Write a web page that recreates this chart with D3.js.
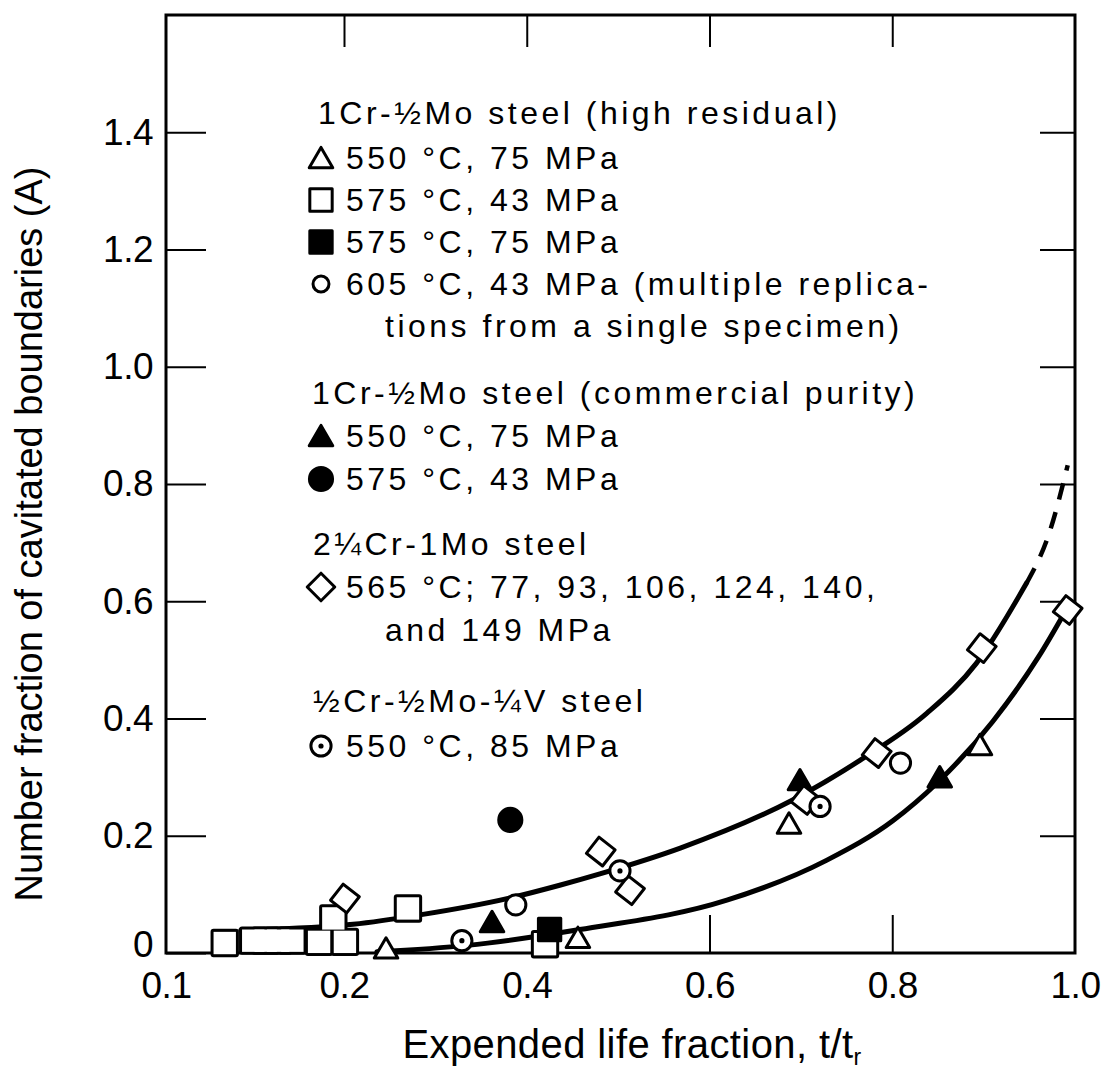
<!DOCTYPE html>
<html>
<head>
<meta charset="utf-8">
<script src="https://cdn.jsdelivr.net/npm/d3@7"></script>
<style>
  html, body { margin: 0; padding: 0; background: #fff; }
  svg { display: block; }
  text { font-family: "Liberation Sans", Arial, Helvetica, sans-serif; fill: #000; }
</style>
</head>
<body>
<svg id="chart" width="1108" height="1082"></svg>
<script>
// ---------------- data ----------------
const xTickValues = [0.1, 0.2, 0.4, 0.6, 0.8, 1.0];
const yTickValues = [0, 0.2, 0.4, 0.6, 0.8, 1.0, 1.2, 1.4];
const sideTickValues = [0.2, 0.4, 0.6, 0.8, 1.0, 1.2, 1.4];
const topTickValues = [0.2, 0.4, 0.6, 0.8];
const bottomTickValues = [0.6, 0.8];

// [t/tr, A]
// 1Cr-1/2Mo steel (high residual)
const hr550_75 = [[0.246, 0.008], [0.456, 0.026], [0.687, 0.221], [0.896, 0.355]];
const hr575_43 = [[0.133, 0.017], [0.149, 0.021], [0.156, 0.021], [0.163, 0.021], [0.171, 0.021],
                  [0.186, 0.019], [0.201, 0.019], [0.194, 0.059], [0.270, 0.076], [0.420, 0.015]];
const hr575_75 = [[0.425, 0.040]];
const hr605_43 = [[0.388, 0.082], [0.809, 0.324]];
// 1Cr-1/2Mo steel (commercial purity)
const cp550_75 = [[0.362, 0.053], [0.699, 0.295], [0.852, 0.300]];
const cp575_43 = [[0.382, 0.227]];
// 2 1/4Cr-1Mo steel
const cr2Mo565 = [[0.201, 0.093], [0.481, 0.173], [0.513, 0.107], [0.705, 0.261],
                  [0.783, 0.341], [0.898, 0.520], [0.992, 0.585]];
// 1/2Cr-1/2Mo-1/4V steel
const crMoV550 = [[0.329, 0.021], [0.502, 0.140], [0.721, 0.250]];

// fitted trend curves
const upperCurve = [[0.142, 0.039], [0.210, 0.049], [0.283, 0.065], [0.382, 0.094], [0.437, 0.116],
                    [0.480, 0.135], [0.568, 0.179], [0.691, 0.261], [0.765, 0.329], [0.838, 0.409],
                    [0.892, 0.494], [0.947, 0.631]];
const upperCurveExtension = [[0.947, 0.631], [0.973, 0.722], [0.992, 0.832]];
const lowerCurve = [[0.236, 0.002], [0.335, 0.013], [0.458, 0.040], [0.619, 0.090], [0.728, 0.158],
                    [0.801, 0.226], [0.849, 0.290], [0.910, 0.395], [0.960, 0.505], [0.992, 0.590]];

// legend text
const legendGroups = [
  { title: "1Cr-½Mo steel (high residual)", items: [
      { sym: "triOpen", text: "550 °C, 75 MPa" },
      { sym: "sqOpen", text: "575 °C, 43 MPa" },
      { sym: "sqFill", text: "575 °C, 75 MPa" },
      { sym: "circOpenSmall", text: "605 °C, 43 MPa (multiple replica-" },
      { sym: null, text: "tions from a single specimen)", indent: true } ] },
  { title: "1Cr-½Mo steel (commercial purity)", items: [
      { sym: "triFill", text: "550 °C, 75 MPa" },
      { sym: "circFill", text: "575 °C, 43 MPa" } ] },
  { title: "2¼Cr-1Mo steel", items: [
      { sym: "diamondLegend", text: "565 °C; 77, 93, 106, 124, 140," },
      { sym: null, text: "and 149 MPa", indent: true } ] },
  { title: "½Cr-½Mo-¼V steel", items: [
      { sym: "dotCirc", text: "550 °C, 85 MPa" } ] }
];

const xTitle = "Expended life fraction, t/t";
const xTitleSub = "r";
const yTitle = "Number fraction of cavitated boundaries (A)";

// ---------------- layout ----------------
const frame = { left: 166, right: 1075, top: 15, bottom: 953 };

const svg = d3.select("#chart");

// axis below 0.2 is compressed, as in the printed figure
const x = d3.scaleLinear().domain([0.1, 0.2, 1.0]).range([frame.left, 344, frame.right]);
const y = d3.scaleLinear().domain([0, 1.6]).range([frame.bottom, frame.top]);

// ---------------- symbols ----------------
const SW = 3;
function symbolPath(kind) {
  switch (kind) {
    case "triOpen": case "triFill": return d3.symbol(d3.symbolTriangle, 240)();
    case "sqOpen": case "sqFill": return d3.symbol(d3.symbolSquare, 500)();
    case "circOpen": case "dotCirc": return d3.symbol(d3.symbolCircle, 320)();
    case "circOpenSmall": return d3.symbol(d3.symbolCircle, 200)();
    case "circFill": return d3.symbol(d3.symbolCircle, 420)();
    case "diamond": return d3.symbol(d3.symbolSquare, 420)();
    case "diamondLegend": return d3.symbol(d3.symbolSquare, 380)();
  }
}
function drawSymbol(g, kind, cx, cy) {
  const filled = kind === "triFill" || kind === "sqFill" || kind === "circFill";
  const rot = kind === "diamond" ? 38 : (kind === "diamondLegend" ? 45 : 0);
  const dy = (kind === "triOpen" || kind === "triFill") ? 3 : 0;
  g.append("path")
    .attr("d", symbolPath(kind))
    .attr("transform", `translate(${cx},${cy + dy}) rotate(${rot})`)
    .attr("fill", filled ? "#000" : "#fff")
    .attr("stroke", "#000")
    .attr("stroke-width", SW)
    .attr("stroke-linejoin", "round");
  if (kind === "dotCirc") {
    g.append("circle").attr("cx", cx).attr("cy", cy).attr("r", 2.6).attr("fill", "#000");
  }
}

// ---------------- frame & axes ----------------
const axes = svg.append("g");

axes.append("rect")
  .attr("x", frame.left).attr("y", frame.top)
  .attr("width", frame.right - frame.left).attr("height", frame.bottom - frame.top)
  .attr("fill", "none").attr("stroke", "#000").attr("stroke-width", 3);

function styleAxis(g) {
  g.select(".domain").remove();
  g.selectAll(".tick line").attr("stroke", "#000").attr("stroke-width", 2);
  g.selectAll(".tick text")
    .style("font-family", '"Liberation Sans", Arial, sans-serif')
    .style("font-size", "37px")
    .style("letter-spacing", "-0.5px");
}

const leftAxis = axes.append("g")
  .attr("transform", `translate(${frame.left},0)`)
  .call(d3.axisLeft(y).tickValues(yTickValues).tickSizeInner(-40).tickSizeOuter(0)
        .tickPadding(13).tickFormat(d => d === 0 ? "0" : d3.format(".1f")(d)))
  .call(styleAxis);
// the zero label sits a little above the baseline
leftAxis.selectAll(".tick text").filter(d => d === 0).attr("dy", "0.1em");

axes.append("g")
  .attr("transform", `translate(${frame.right},0)`)
  .call(d3.axisRight(y).tickValues(sideTickValues).tickSizeInner(-35).tickSizeOuter(0).tickFormat(""))
  .call(styleAxis);

axes.append("g")
  .attr("transform", `translate(0,${frame.top})`)
  .call(d3.axisTop(x).tickValues(topTickValues).tickSizeInner(-32).tickSizeOuter(0).tickFormat(""))
  .call(styleAxis);

axes.append("g")
  .attr("transform", `translate(0,${frame.bottom})`)
  .call(d3.axisBottom(x).tickValues(bottomTickValues).tickSizeInner(-38).tickSizeOuter(0).tickFormat(""))
  .call(styleAxis);

axes.append("g")
  .attr("transform", `translate(0,${frame.bottom})`)
  .call(d3.axisBottom(x).tickValues(xTickValues).tickSize(0).tickPadding(19)
        .tickFormat(d3.format(".1f")))
  .call(styleAxis);

// axis titles
const xt = svg.append("text")
  .attr("x", 632).attr("y", 1058)
  .attr("text-anchor", "middle")
  .style("font-size", "40px")
  .style("letter-spacing", "0.4px");
xt.append("tspan").text(xTitle);
xt.append("tspan").attr("dy", 7).style("font-size", "23px").text(xTitleSub);

svg.append("text")
  .attr("transform", `translate(42,${(frame.top + frame.bottom) / 2 + 50}) rotate(-90)`)
  .attr("text-anchor", "middle")
  .style("font-size", "38px")
  .text(yTitle);

// ---------------- curves ----------------
const line = d3.line().x(d => x(d[0])).y(d => y(d[1])).curve(d3.curveMonotoneX);
const curves = svg.append("g").attr("fill", "none").attr("stroke", "#000");
curves.append("path").attr("d", line(upperCurve)).attr("stroke-width", 5).attr("stroke-linecap", "round");
curves.append("path").attr("d", line(upperCurveExtension)).attr("stroke-width", 4.5)
  .attr("stroke-dasharray", "17,13");
curves.append("path").attr("d", line(lowerCurve)).attr("stroke-width", 5).attr("stroke-linecap", "round");

// ---------------- points ----------------
const pts = svg.append("g");

// overlapping open squares merge into one outline
const sqG = pts.append("g");
sqG.selectAll("path.o").data(hr575_43).join("path")
  .attr("d", symbolPath("sqOpen"))
  .attr("transform", d => `translate(${x(d[0])},${y(d[1])})`)
  .attr("fill", "none").attr("stroke", "#000").attr("stroke-width", SW * 2)
  .attr("stroke-linejoin", "round");
sqG.selectAll("path.f").data(hr575_43).join("path")
  .attr("d", symbolPath("sqOpen"))
  .attr("transform", d => `translate(${x(d[0])},${y(d[1])})`)
  .attr("fill", "#fff");

const seriesOrder = [
  [hr575_75, "sqFill"],
  [hr550_75, "triOpen"],
  [cp550_75, "triFill"],
  [hr605_43, "circOpen"],
  [cp575_43, "circFill"],
  [cr2Mo565, "diamond"],
  [crMoV550, "dotCirc"]
];
seriesOrder.forEach(([data, kind]) => {
  data.forEach(d => drawSymbol(pts, kind, x(d[0]), y(d[1])));
});

// ---------------- legend ----------------
const legend = svg.append("g").style("font-size", "32px").style("letter-spacing", "3.5px");
const groupStarts = [124, 404, 555, 712];
const groupTitleX = [318, 312, 313, 313];
const rowGap = [43, 43, 43, 45];
legendGroups.forEach((grp, gi) => {
  let by = groupStarts[gi];
  legend.append("text").attr("x", groupTitleX[gi]).attr("y", by).text(grp.title);
  by += (gi === 0 ? 45 : rowGap[gi]);
  grp.items.forEach(it => {
    if (it.sym) drawSymbol(legend, it.sym, 321, by - 11);
    legend.append("text").attr("x", it.indent ? 385 : 346).attr("y", by).text(it.text);
    by += rowGap[gi] - (gi === 0 ? 1 : 0);
  });
});
</script>
</body>
</html>
